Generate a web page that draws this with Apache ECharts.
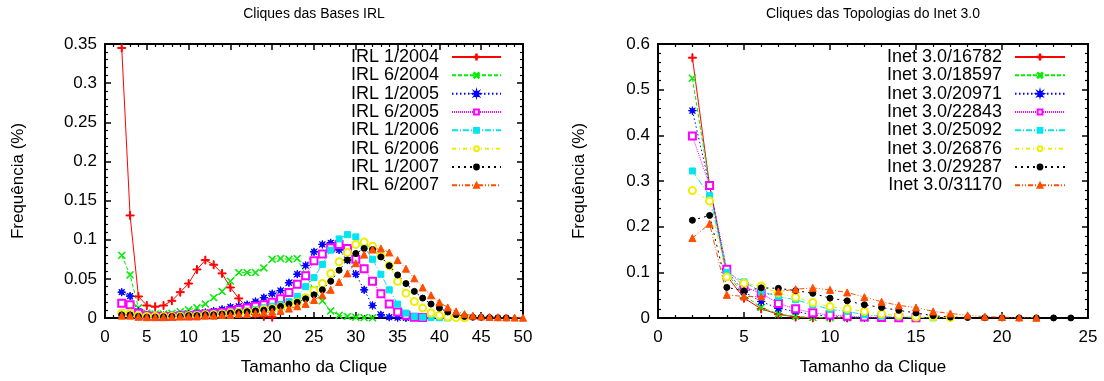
<!DOCTYPE html>
<html><head><meta charset="utf-8">
<script src="https://cdn.jsdelivr.net/npm/echarts@6/dist/echarts.min.js"></script>
<style>html,body{margin:0;padding:0;background:#fff}#c{width:1104px;height:381px}</style>
</head><body><div id="c"></div>
<script>
// ---------- DATA ----------
const xStart = 2; // first clique size of every series
const irlNames = ['IRL 1/2004','IRL 6/2004','IRL 1/2005','IRL 6/2005','IRL 1/2006','IRL 6/2006','IRL 1/2007','IRL 6/2007'];
const irl_1_2004 = [0.345,0.131,0.0275,0.016,0.0145,0.016,0.022,0.033,0.044,0.062,0.074,0.068,0.057,0.039,0.025,0.013,0.005,0.002,0.001];
const irl_6_2004 = [0.080,0.055,0.013,0.0063,0.005,0.005,0.006,0.008,0.0105,0.013,0.0178,0.026,0.034,0.047,0.058,0.058,0.058,0.064,0.075,0.076,0.075,0.076,0.055,0.036,0.022,0.009,0.0034,0.002,0.001,0.0005,0.0003];
const irl_1_2005 = [0.033,0.028,0.0085,0.004,0.003,0.003,0.003,0.004,0.005,0.006,0.007,0.009,0.011,0.014,0.015,0.017,0.021,0.026,0.031,0.035,0.045,0.056,0.067,0.0845,0.094,0.096,0.087,0.074,0.056,0.036,0.016,0.004,0.001,0.0005,0.0002];
const irl_6_2005 = [0.019,0.017,0.006,0.003,0.002,0.002,0.002,0.003,0.003,0.004,0.005,0.006,0.007,0.009,0.011,0.0127,0.015,0.017,0.020,0.0245,0.0326,0.043,0.054,0.073,0.0816,0.0896,0.094,0.0888,0.0752,0.063,0.047,0.031,0.0178,0.0076,0.0034,0.001,0.0005];
const irl_1_2006 = [0.006,0.005,0.003,0.002,0.002,0.002,0.002,0.003,0.003,0.004,0.004,0.005,0.006,0.007,0.008,0.009,0.011,0.013,0.015,0.017,0.021,0.0275,0.040,0.0516,0.0685,0.0866,0.101,0.1065,0.1036,0.091,0.075,0.0558,0.036,0.0178,0.0063,0.002,0.001,0.0005,0.0003,0.0002];
const irl_6_2006 = [0.006,0.006,0.003,0.002,0.002,0.002,0.002,0.002,0.003,0.003,0.004,0.004,0.005,0.006,0.007,0.008,0.009,0.011,0.012,0.014,0.017,0.020,0.026,0.035,0.044,0.057,0.072,0.0837,0.094,0.097,0.0917,0.0795,0.0668,0.047,0.0317,0.021,0.0127,0.0063,0.0034,0.0013,0.0006,0.0003];
const irl_1_2007 = [0.004,0.004,0.002,0.001,0.001,0.0015,0.002,0.002,0.003,0.003,0.004,0.004,0.005,0.006,0.007,0.008,0.009,0.010,0.012,0.0148,0.018,0.020,0.0245,0.0296,0.036,0.047,0.061,0.074,0.0824,0.0888,0.0875,0.078,0.0668,0.055,0.044,0.034,0.0254,0.0178,0.0127,0.0076,0.0042,0.002,0.001,0.0008,0.0005,0.0003,0.0002];
const irl_6_2007 = [0.003,0.003,0.0015,0.001,0.001,0.001,0.0015,0.002,0.002,0.002,0.003,0.003,0.004,0.004,0.005,0.005,0.006,0.007,0.008,0.009,0.012,0.015,0.018,0.023,0.029,0.036,0.046,0.057,0.070,0.081,0.0875,0.0888,0.0837,0.074,0.063,0.0507,0.039,0.029,0.020,0.0135,0.0085,0.005,0.003,0.002,0.0013,0.001,0.0007,0.0005,0.0003];

const inetNames = ['Inet 3.0/16782','Inet 3.0/18597','Inet 3.0/20971','Inet 3.0/22843','Inet 3.0/25092','Inet 3.0/26876','Inet 3.0/29287','Inet 3.0/31170'];
const inet_16782 = [0.570,0.29,0.092,0.0435,0.020,0.008,0.002,0.0005,0.0002,0.0001];
const inet_18597 = [0.525,0.29,0.098,0.050,0.023,0.0087,0.0036,0.001,0.0004,0.0002,0.0001];
const inet_20971 = [0.454,0.29,0.103,0.057,0.036,0.021,0.0145,0.007,0.0035,0.0012,0.0005,0.0002];
const inet_22843 = [0.3985,0.29,0.1065,0.069,0.054,0.032,0.020,0.0113,0.0065,0.004,0.002,0.001,0.0005,0.0003];
const inet_25092 = [0.322,0.268,0.100,0.079,0.058,0.047,0.040,0.029,0.019,0.0145,0.007,0.004,0.003,0.001,0.0005];
const inet_26876 = [0.279,0.256,0.090,0.076,0.070,0.055,0.0457,0.034,0.025,0.020,0.0145,0.0087,0.0058,0.002,0.002,0.001];
const inet_29287 = [0.214,0.2246,0.067,0.0594,0.066,0.065,0.060,0.054,0.0435,0.0376,0.029,0.023,0.0167,0.011,0.005,0.002,0.001,0.0005,0.0003,0.0002,0.0002,0.0001,0.0001];
const inet_31170 = [0.175,0.2065,0.0507,0.047,0.047,0.058,0.063,0.066,0.0616,0.056,0.0457,0.0355,0.0275,0.023,0.0145,0.010,0.0058,0.003,0.002,0.001,0.0005];

const leftTicksX = {min:0,max:50,interval:5};
const leftTicksY = {min:0,max:0.35,interval:0.05};
const rightTicksX = {min:0,max:25,interval:5};
const rightTicksY = {min:0,max:0.6,interval:0.1};

// ---------- STYLE ----------
function starPath(n, R, r){let d='';for(let i=0;i<2*n;i++){const a=Math.PI*i/n-Math.PI/2;const rr=i%2?r:R;d+=(i?'L':'M')+(5+rr*Math.cos(a)).toFixed(2)+','+(5+rr*Math.sin(a)).toFixed(2);}return 'path://'+d+'Z';}
const plusSym = 'path://M4.4,0H5.6V4.4H10V5.6H5.6V10H4.4V5.6H0V4.4H4.4Z';
const crossSym = 'path://M0.8,0L5,4.2L9.2,0L10,0.8L5.8,5L10,9.2L9.2,10L5,5.8L0.8,10L0,9.2L4.2,5L0,0.8Z';
const styles = [
  {color:'#ff0000', type:'solid', symbol:plusSym, size:8},
  {color:'#00ee00', type:[4,2], symbol:crossSym, size:7},
  {color:'#0000ff', type:[1.5,2.5], symbol:starPath(8,5,2), size:8},
  {color:'#ff00ff', type:[1,1], symbol:'emptyRect', size:7},
  {color:'#00e5ee', type:[6,2,1,2], symbol:'rect', size:6},
  {color:'#eeee00', type:[4,3,1,3], symbol:'emptyCircle', size:7},
  {color:'#000000', type:[2,4], symbol:'circle', size:6},
  {color:'#ff4d00', type:[5,2,1,2,1,2], symbol:'triangle', size:7}
];
const FONT = 'Liberation Sans, Arial, Helvetica, sans-serif';

function pairs(arr){return arr.map((v,i)=>[xStart+i,v]);}
function makeSeries(names, arrs, xi, yi){
  return arrs.map((a,k)=>({
    name:names[k], type:'line', xAxisIndex:xi, yAxisIndex:yi, data:pairs(a),
    symbol:styles[k].symbol, symbolSize:styles[k].size, showSymbol:true,
    lineStyle:{color:styles[k].color, width:1, type:styles[k].type},
    itemStyle:{color:styles[k].color, borderColor:styles[k].color, borderWidth:1},
    emphasis:{disabled:true}, animation:false
  }));
}
function axisPair(grid, t, isX, name, nameGap){
  const base = {
    type:'value', gridIndex:grid, min:t.min, max:t.max, interval:t.interval,
    axisLine:{show:true, onZero:false, lineStyle:{color:'#000', width:2}},
    axisTick:{show:true, inside:true, length:6, lineStyle:{color:'#000', width:1.5}},
    minorTick:{show:true, splitNumber:5, length:3, lineStyle:{color:'#000', width:1.2}},
    splitLine:{show:false}, minorSplitLine:{show:false}
  };
  const main = Object.assign({}, base, {
    position: isX ? 'bottom' : 'left',
    axisLabel:{show:true, color:'#000', fontSize:17, fontFamily:FONT, margin: isX ? 11 : 8},
    name:name, nameLocation:'middle', nameGap:nameGap,
    nameTextStyle:{color:'#000', fontSize:17, fontFamily:FONT}
  });
  const mirror = Object.assign({}, base, {position: isX ? 'top' : 'right', axisLabel:{show:false}});
  return [main, mirror];
}

const lx = axisPair(0, leftTicksX, true, 'Tamanho da Clique', 41);
const ly = axisPair(0, leftTicksY, false, 'Frequência (%)', 78);
const rx = axisPair(1, rightTicksX, true, 'Tamanho da Clique', 41);
const ry = axisPair(1, rightTicksY, false, 'Frequência (%)', 70);

const legendBase = {
  orient:'vertical', align:'right', padding:0, itemGap:0.33, itemWidth:49, itemHeight:6,
  textStyle:{color:'#000', fontSize:18, fontFamily:FONT, lineHeight:18, padding:[0,8,0,0]},
  selectedMode:false, top:48
};

const chart = echarts.init(document.getElementById('c'), null, {renderer:'canvas'});
chart.setOption({
  backgroundColor:'#fff', animation:false,
  grid:[{left:105, right:581, top:44, bottom:61}, {left:658, right:16, top:44, bottom:61}],
  xAxis:[lx[0], lx[1], rx[0], rx[1]],
  yAxis:[ly[0], ly[1], ry[0], ry[1]],
  legend:[
    Object.assign({}, legendBase, {right:602, data:irlNames}),
    Object.assign({}, legendBase, {right:38, itemWidth:50, data:inetNames})
  ],
  graphic:[
    {type:'text', x:314, y:14, style:{text:'Cliques das Bases IRL', fill:'#000', font:'14px '+FONT, textAlign:'center', textVerticalAlign:'middle'}},
    {type:'text', x:873, y:14, style:{text:'Cliques das Topologias do Inet 3.0', fill:'#000', font:'14px '+FONT, textAlign:'center', textVerticalAlign:'middle'}}
  ],
  series:[].concat(
    makeSeries(irlNames, [irl_1_2004,irl_6_2004,irl_1_2005,irl_6_2005,irl_1_2006,irl_6_2006,irl_1_2007,irl_6_2007], 0, 0),
    makeSeries(inetNames, [inet_16782,inet_18597,inet_20971,inet_22843,inet_25092,inet_26876,inet_29287,inet_31170], 2, 2)
  )
});
</script></body></html>
